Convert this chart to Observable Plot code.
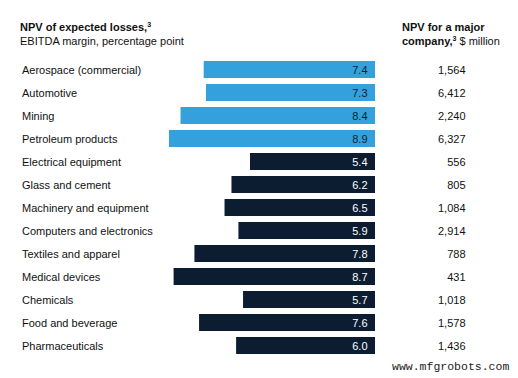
<!DOCTYPE html>
<html>
<head>
<meta charset="utf-8">
<script src="https://cdn.jsdelivr.net/npm/d3@7"></script>
<script src="https://cdn.jsdelivr.net/npm/@observablehq/plot@0.6"></script>
<style>
  html, body { margin: 0; padding: 0; background: #fff; }
  #wrap { position: relative; width: 518px; height: 378px; font-family: "Liberation Sans", Arial, sans-serif; color: #111; }
  .hdr { position: absolute; font-size: 11px; line-height: 13.5px; }
  .hdr b { font-weight: bold; }
  .hdr sup { font-size: 7px; line-height: 0; vertical-align: 4px; }
  #wm { position: absolute; left: 392px; top: 360px; font-family: "Liberation Mono", "Courier New", monospace; font-size: 11.5px; color: #222; }
  #chart { position: absolute; left: 0; top: 0; }
</style>
</head>
<body>
<div id="wrap">
  <div id="chart"></div>
  <div class="hdr" style="left:20px; top:21px;"><b>NPV of expected losses,<sup>3</sup></b><br>EBITDA margin, percentage point</div>
  <div class="hdr" style="left:402px; top:21px;"><b>NPV for a major<br>company,<sup>3</sup></b> $ million</div>
  <div id="wm">www.mfgrobots.com</div>
</div>
<script>
const industries = ["Aerospace (commercial)", "Automotive", "Mining", "Petroleum products", "Electrical equipment", "Glass and cement", "Machinery and equipment", "Computers and electronics", "Textiles and apparel", "Medical devices", "Chemicals", "Food and beverage", "Pharmaceuticals"];
const losses = [7.4, 7.3, 8.4, 8.9, 5.4, 6.2, 6.5, 5.9, 7.8, 8.7, 5.7, 7.6, 6.0];
const npvMajor = ["1,564", "6,412", "2,240", "6,327", "556", "805", "1,084", "2,914", "788", "431", "1,018", "1,578", "1,436"];
const highlighted = [true, true, true, true, false, false, false, false, false, false, false, false, false];

const data = industries.map((name, i) => ({name, value: losses[i], npv: npvMajor[i], hi: highlighted[i]}));

const chart = Plot.plot({
  width: 518,
  height: 378,
  marginTop: 54,
  marginBottom: 18,
  marginLeft: 143.5,
  marginRight: 143,
  style: {fontFamily: "'Liberation Sans', Arial, sans-serif", fontSize: "11px", background: "transparent", overflow: "visible"},
  x: {domain: [0, 10], reverse: true, axis: null},
  y: {domain: industries, axis: null, paddingInner: 0.28, paddingOuter: 0.14},
  marks: [
    Plot.barX(data, {y: "name", x: "value", fill: d => d.hi ? "#34a1dc" : "#0c1d32"}),
    Plot.text(data, {y: "name", x: 0, text: d => d.value.toFixed(1), textAnchor: "end", dx: -8, fill: d => d.hi ? "#0c1d32" : "#ffffff", fontSize: 11}),
    Plot.text(data, {y: "name", text: "name", frameAnchor: "left", textAnchor: "start", dx: -122, fill: "#111", fontSize: 11}),
    Plot.text(data, {y: "name", text: "npv", frameAnchor: "right", textAnchor: "end", dx: 90, fill: "#111", fontSize: 11})
  ]
});
document.getElementById("chart").appendChild(chart);
</script>
</body>
</html>
